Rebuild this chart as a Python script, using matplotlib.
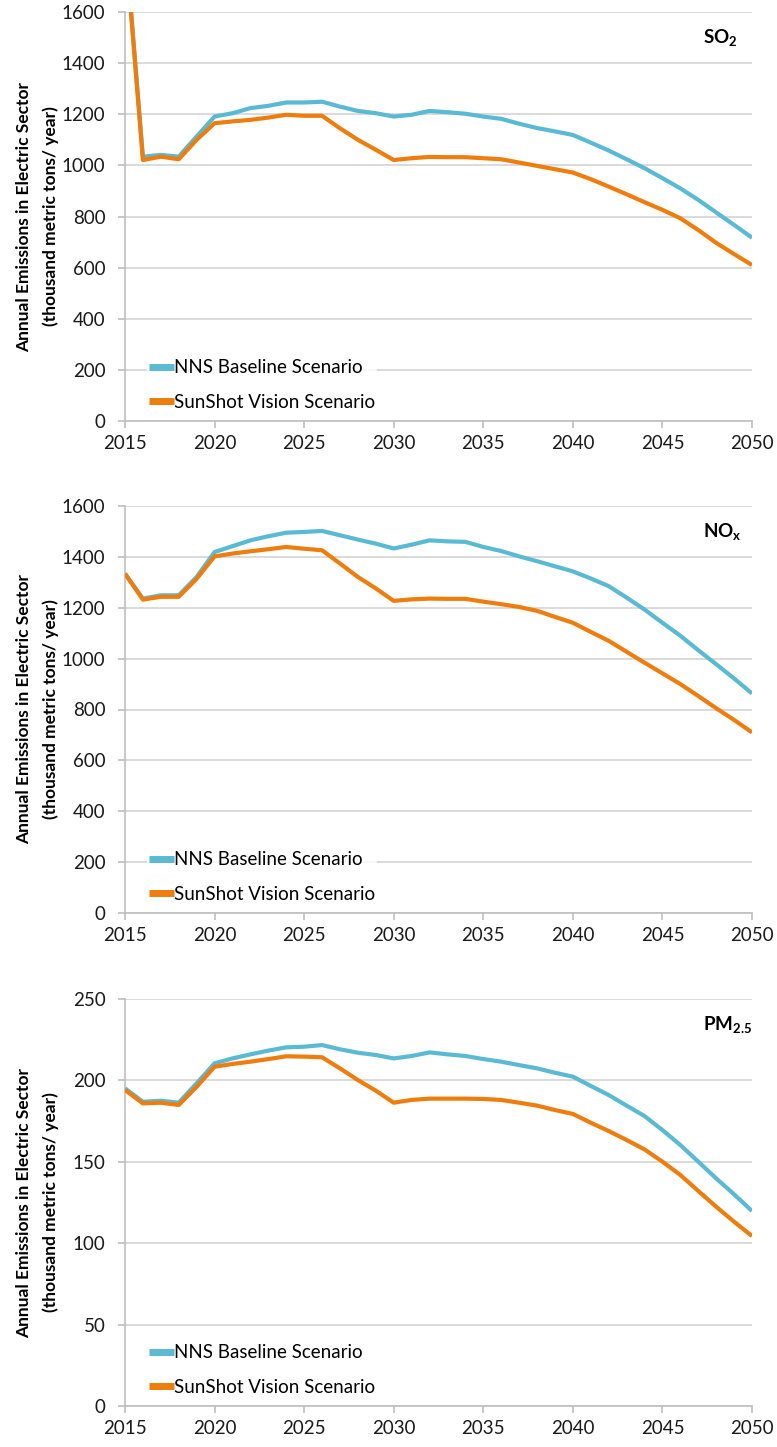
import matplotlib
matplotlib.use("Agg")
import matplotlib.pyplot as plt

plt.rcParams["font.family"] = ["Lato", "DejaVu Sans"]
plt.rcParams["mathtext.fontset"] = "custom"
plt.rcParams["mathtext.rm"] = "Lato"
plt.rcParams["mathtext.bf"] = "Lato:bold"

years = list(range(2015, 2051))

# SO2 (thousand metric tons / year)
so2_base = [1890, 1034, 1041, 1034, 1113, 1191, 1204, 1224, 1233, 1246, 1246, 1249,
            1230, 1213, 1204, 1191, 1198, 1213, 1208, 1202, 1191, 1182, 1163, 1146,
            1133, 1119, 1089, 1058, 1024, 989, 950, 910, 865, 816, 767, 717]
so2_sun = [1890, 1021, 1034, 1024, 1100, 1165, 1172, 1178, 1187, 1198, 1194, 1194,
           1145, 1100, 1061, 1021, 1028, 1033, 1032, 1032, 1028, 1024, 1011, 998,
           985, 972, 946, 917, 887, 856, 826, 793, 747, 697, 653, 610]

# NOx
nox_base = [1334, 1236, 1249, 1249, 1321, 1419, 1442, 1465, 1481, 1495, 1498, 1502,
            1485, 1468, 1452, 1433, 1448, 1465, 1461, 1459, 1439, 1423, 1402, 1383,
            1363, 1343, 1315, 1285, 1240, 1193, 1141, 1090, 1033, 978, 922, 863]
nox_sun = [1334, 1232, 1243, 1243, 1314, 1402, 1413, 1422, 1430, 1439, 1432, 1426,
           1374, 1321, 1276, 1227, 1233, 1236, 1235, 1235, 1224, 1214, 1203, 1188,
           1164, 1141, 1105, 1070, 1027, 984, 942, 900, 853, 805, 759, 710]

# PM2.5
pm_base = [195.1, 186.9, 187.5, 186.3, 198.2, 210.5, 213.5, 216.0, 218.3, 220.3, 220.7,
           221.7, 219.1, 217.0, 215.6, 213.5, 215.0, 217.2, 216.0, 215.0, 213.1, 211.5,
           209.4, 207.4, 204.7, 202.3, 196.6, 191.0, 184.5, 178.1, 169.5, 160.3, 150.1,
           139.8, 130.0, 119.8]
pm_sun = [194.1, 185.9, 186.3, 184.9, 196.1, 208.4, 210.1, 211.5, 213.1, 214.8, 214.6,
          214.2, 207.4, 200.2, 193.7, 186.3, 188.0, 188.8, 188.8, 188.8, 188.6, 188.0,
          186.3, 184.5, 181.8, 179.4, 174.0, 168.9, 163.4, 157.6, 150.1, 141.9, 132.1,
          122.4, 113.2, 104.4]

labels = [r"$\mathbf{SO}_\mathbf{2}$", r"$\mathbf{NO}_\mathbf{x}$", r"$\mathbf{PM}_\mathbf{2.5}$"]
series = [(so2_base, so2_sun), (nox_base, nox_sun), (pm_base, pm_sun)]
ylims = [(0, 1600, 200), (0, 1600, 200), (0, 250, 50)]
xticks = [2015, 2020, 2025, 2030, 2035, 2040, 2045, 2050]

BLUE = "#5BBAD3"
ORANGE = "#EE7D0E"
GRID = "#D4D4D4"
AXIS = "#BFBFBF"

W, H = 777, 1447
panels_px = [(12, 421), (506, 913), (999, 1406)]  # top, bottom
left_px, right_px = 125, 752

fig = plt.figure(figsize=(W / 100, H / 100), dpi=100)

for (top, bot), (base, sun), lab, (y0, y1, step) in zip(panels_px, series, labels, ylims):
    ax = fig.add_axes([left_px / W, 1 - bot / H, (right_px - left_px) / W, (bot - top) / H])
    ax.plot(years, base, color=BLUE, lw=3.0, solid_joinstyle="round",
            solid_capstyle="butt", label="NNS Baseline Scenario", zorder=3)
    ax.plot(years, sun, color=ORANGE, lw=3.0, solid_joinstyle="round",
            solid_capstyle="butt", label="SunShot Vision Scenario", zorder=4)
    ax.set_xlim(2015, 2050)
    ax.set_ylim(y0, y1)
    ax.set_xticks(xticks)
    ax.set_yticks(range(y0, y1 + 1, step))
    ax.grid(axis="y", color=GRID, lw=1.2)
    ax.set_axisbelow(True)
    for s in ("top", "right"):
        ax.spines[s].set_visible(False)
    for s in ("left", "bottom"):
        ax.spines[s].set_color(AXIS)
        ax.spines[s].set_linewidth(1.2)
    ax.tick_params(axis="both", colors=AXIS, labelcolor="#1a1a1a", labelsize=13.5,
                   length=5, width=1.2)
    ax.tick_params(axis="y", pad=9)
    ax.tick_params(axis="x", pad=5)
    ax.set_ylabel("Annual Emissions in Electric Sector\n(thousand metric tons/ year)",
                  fontsize=12.5, fontweight="bold", linespacing=1.75)
    # same label position in every panel, independent of tick-label width
    ax.yaxis.set_label_coords(-0.105, 0.5)
    ax.text(0.922, 0.936, lab, transform=ax.transAxes, fontsize=13.5,
            ha="left", va="center")
    leg = ax.legend(loc="lower left", bbox_to_anchor=(0.035, 0.02), fontsize=13.5,
                    frameon=True, fancybox=False, borderpad=0.1, borderaxespad=0,
                    handlelength=1.35, handletextpad=0.0, labelspacing=0.95)
    leg.get_frame().set_facecolor("white")
    leg.get_frame().set_edgecolor("none")
    for h in leg.get_lines():
        h.set_linewidth(5)

fig.savefig("out.png", dpi=100)
